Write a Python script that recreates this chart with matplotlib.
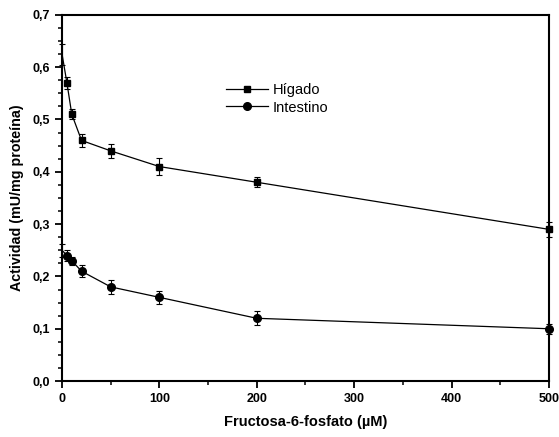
import matplotlib
matplotlib.use('Agg')
import matplotlib.pyplot as plt
from matplotlib.lines import Line2D
from matplotlib.ticker import MultipleLocator, FuncFormatter

# data
fructosa = [0, 5, 10, 20, 50, 100, 200, 500]
higado = [0.625, 0.57, 0.51, 0.46, 0.44, 0.41, 0.38, 0.29]
higado_err = [0.02, 0.012, 0.01, 0.013, 0.014, 0.017, 0.01, 0.015]
intestino = [0.25, 0.24, 0.23, 0.21, 0.18, 0.16, 0.12, 0.10]
intestino_err = [0.012, 0.01, 0.008, 0.012, 0.013, 0.013, 0.013, 0.01]

plt.rcParams['font.family'] = ['Liberation Sans', 'DejaVu Sans']

fig = plt.figure(figsize=(5.59, 4.37), dpi=100)
ax = fig.add_axes([0.111, 0.128, 0.871, 0.838])

mk = list(range(1, len(fructosa)))
ax.errorbar(fructosa, higado, yerr=higado_err, color='black', lw=0.9,
            marker='s', markersize=5, markevery=mk, capsize=2.5, elinewidth=0.8,
            capthick=0.8, clip_on=False, zorder=3)
ax.errorbar(fructosa, intestino, yerr=intestino_err, color='black', lw=0.9,
            marker='o', markersize=5.5, markevery=mk, capsize=2.5, elinewidth=0.8,
            capthick=0.8, clip_on=False, zorder=3)

ax.set_xlim(0, 500)
ax.set_ylim(0, 0.7)
ax.xaxis.set_major_locator(MultipleLocator(100))
ax.xaxis.set_minor_locator(MultipleLocator(50))
ax.yaxis.set_major_locator(MultipleLocator(0.1))
ax.yaxis.set_minor_locator(MultipleLocator(0.025))
ax.yaxis.set_major_formatter(FuncFormatter(lambda v, p: f'{v:.1f}'.replace('.', ',')))

for s in ax.spines.values():
    s.set_linewidth(1.5)
ax.tick_params(which='major', direction='out', length=5, width=1.3, labelsize=9)
ax.tick_params(which='minor', direction='out', length=3, width=1.1)
for lbl in ax.get_xticklabels() + ax.get_yticklabels():
    lbl.set_fontweight('bold')

ax.set_xlabel('Fructosa-6-fosfato (µM)', fontsize=10.5, fontweight='bold', labelpad=7)
ax.set_ylabel('Actividad (mU/mg proteína)', fontsize=10.3, fontweight='bold', labelpad=6)

handles = [Line2D([], [], color='black', lw=0.9, marker='s', markersize=5),
           Line2D([], [], color='black', lw=0.9, marker='o', markersize=5.5)]
ax.legend(handles, ['Hígado', 'Intestino'], loc='upper left',
          bbox_to_anchor=(0.31, 0.85), frameon=False, fontsize=10.5,
          handlelength=2.9, handletextpad=0.3, labelspacing=0.25)

fig.savefig('out.png', dpi=100)
